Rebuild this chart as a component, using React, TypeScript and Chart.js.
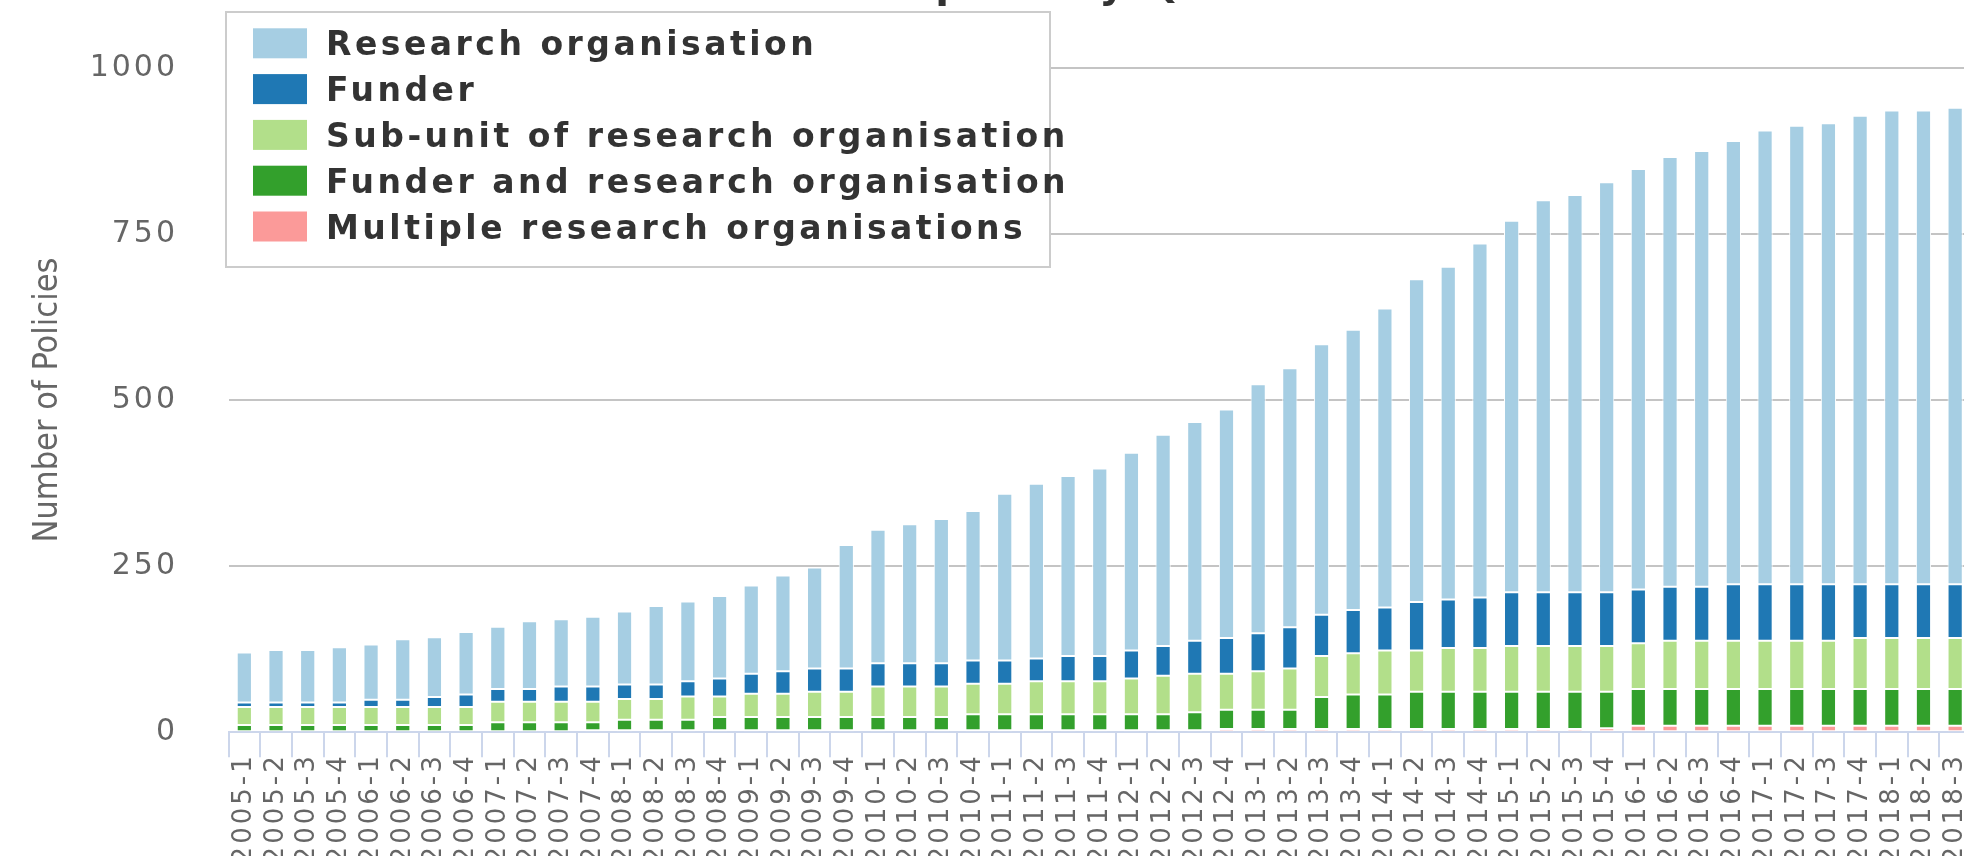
import React, { useEffect, useRef } from 'react';
import { Chart, registerables } from 'chart.js';

Chart.register(...registerables);

const quarters = [
  '2005-1', '2005-2', '2005-3', '2005-4', '2006-1', '2006-2', '2006-3', '2006-4',
  '2007-1', '2007-2', '2007-3', '2007-4', '2008-1', '2008-2', '2008-3', '2008-4',
  '2009-1', '2009-2', '2009-3', '2009-4', '2010-1', '2010-2', '2010-3', '2010-4',
  '2011-1', '2011-2', '2011-3', '2011-4', '2012-1', '2012-2', '2012-3', '2012-4',
  '2013-1', '2013-2', '2013-3', '2013-4', '2014-1', '2014-2', '2014-3', '2014-4',
  '2015-1', '2015-2', '2015-3', '2015-4', '2016-1', '2016-2', '2016-3', '2016-4',
  '2017-1', '2017-2', '2017-3', '2017-4', '2018-1', '2018-2', '2018-3',
];

const researchOrganisation = [
  75, 79, 79, 83, 83, 91, 90, 94, 94, 102, 101, 105, 110, 118, 120, 124,
  133, 144, 152, 186, 201, 209, 217, 225, 251, 263, 271, 282, 298, 318, 329, 344,
  375, 390, 407, 422, 450, 486, 501, 533, 559, 590, 598, 617, 633, 647, 656, 667,
  683, 690, 694, 705, 713, 713, 717,
];

const funder = [
  7, 7, 7, 7, 11, 11, 15, 19, 19, 19, 23, 23, 22, 22, 23, 27,
  30, 34, 35, 35, 35, 35, 35, 35, 35, 34, 38, 38, 42, 45, 50, 54,
  57, 62, 62, 65, 65, 73, 73, 76, 81, 81, 81, 81, 81, 81, 81, 85,
  85, 85, 85, 81, 81, 81, 81,
];

const subUnit = [
  27, 27, 27, 27, 27, 27, 27, 27, 31, 31, 31, 31, 31, 31, 35, 31,
  35, 35, 38, 38, 46, 46, 46, 46, 46, 50, 50, 50, 54, 58, 58, 54,
  58, 62, 62, 62, 66, 62, 66, 66, 69, 69, 69, 69, 69, 73, 73, 73,
  73, 73, 73, 77, 77, 77, 77,
];

const funderAndResearch = [
  11, 11, 11, 11, 11, 11, 11, 11, 15, 15, 15, 12, 16, 16, 16, 20,
  20, 20, 20, 20, 20, 20, 20, 24, 24, 24, 24, 24, 24, 24, 27, 29,
  29, 29, 48, 52, 52, 56, 56, 56, 56, 56, 56, 55, 55, 55, 55, 55,
  55, 55, 55, 55, 55, 55, 55,
];

const multipleResearch = [
  0, 0, 0, 0, 0, 0, 0, 0, 0, 0, 0, 3, 3, 3, 3, 3,
  3, 3, 3, 3, 3, 3, 3, 3, 3, 3, 3, 3, 3, 3, 3, 5,
  5, 5, 5, 5, 5, 5, 5, 5, 5, 5, 5, 6, 10, 10, 10, 10,
  10, 10, 10, 10, 10, 10, 10,
];

const yTicks = [0, 250, 500, 750, 1000];

const W = 1972;
const H = 930;
const TOP_SHIFT = 29; // canvas is placed 29px above the page top
const PLOT_LEFT = 228.5;
const PLOT_BOTTOM = 761.3;
const SPACING = '3px';

const spacingPlugin = {
  id: 'spacingPlugin',
  beforeUpdate(chart: any) {
    chart.ctx.letterSpacing = SPACING;
  },
  beforeDraw(chart: any) {
    chart.ctx.letterSpacing = SPACING;
  },
};

const overlayPlugin = {
  id: 'overlayPlugin',
  afterDraw(chart: any) {
    const ctx: CanvasRenderingContext2D = chart.ctx;
    ctx.save();
    (ctx as any).letterSpacing = '0px';

    // y-axis title
    ctx.save();
    ctx.translate(48, 400 + TOP_SHIFT);
    ctx.rotate(-Math.PI / 2);
    ctx.fillStyle = '#666666';
    ctx.font = "34px 'Liberation Sans Narrow', 'DejaVu Sans Condensed', sans-serif";
    ctx.textAlign = 'center';
    ctx.textBaseline = 'middle';
    ctx.fillText('Number of Policies', 0, 0);
    ctx.restore();

    // legend box
    const bx = 226, by = 12 + TOP_SHIFT, bw = 824, bh = 255;
    ctx.fillStyle = '#ffffff';
    ctx.fillRect(bx, by, bw, bh);
    ctx.strokeStyle = '#cccccc';
    ctx.lineWidth = 2;
    ctx.strokeRect(bx, by, bw, bh);

    const ds = chart.data.datasets.slice().reverse();
    ctx.font = "bold 33px 'DejaVu Sans', sans-serif";
    (ctx as any).letterSpacing = '3.5px';
    ctx.textAlign = 'left';
    ctx.textBaseline = 'alphabetic';
    ds.forEach((d: any, i: number) => {
      const y = 28.3 + 45.8 * i + TOP_SHIFT;
      ctx.fillStyle = d.backgroundColor;
      ctx.fillRect(253, y, 54, 30);
      ctx.fillStyle = '#333333';
      ctx.fillText(d.label, 326, y + 27);
    });
    ctx.restore();
  },
};

export default function App() {
  const ref = useRef<HTMLCanvasElement | null>(null);

  useEffect(() => {
    const canvas = ref.current;
    if (!canvas) return;
    const common = { borderColor: '#ffffff', borderWidth: 1, borderSkipped: false as const, barPercentage: 0.48, categoryPercentage: 1 };
    const chart = new Chart(canvas, {
      type: 'bar',
      data: {
        labels: quarters,
        datasets: [
          { label: 'Multiple research organisations', data: multipleResearch, backgroundColor: '#fb9a99', ...common },
          { label: 'Funder and research organisation', data: funderAndResearch, backgroundColor: '#33a02c', ...common },
          { label: 'Sub-unit of research organisation', data: subUnit, backgroundColor: '#b2df8a', ...common },
          { label: 'Funder', data: funder, backgroundColor: '#1f78b4', ...common },
          { label: 'Research organisation', data: researchOrganisation, backgroundColor: '#a6cee3', ...common },
        ],
      },
      options: {
        responsive: false,
        animation: false,
        devicePixelRatio: 1,
        layout: { padding: { left: 0, right: 1, top: 0, bottom: 0 } },
        plugins: {
          legend: { display: false },
          tooltip: { enabled: false },
          title: {
            display: true,
            text: 'Policies adopted by Quarter',
            color: '#333333',
            font: { family: "'DejaVu Sans', sans-serif", size: 40, weight: 'bold' },
            padding: { top: -8, bottom: 57 },
          },
        },
        scales: {
          x: {
            stacked: true,
            offset: true,
            grid: {
              display: true,
              drawOnChartArea: false,
              drawTicks: true,
              tickLength: 25,
              color: '#ccd6eb',
              lineWidth: 2,
              offset: true,
            },
            border: { display: true, color: '#ccd6eb', width: 2 },
            ticks: {
              autoSkip: false,
              minRotation: 90,
              maxRotation: 90,
              padding: -4,
              color: '#666666',
              font: { family: "'DejaVu Sans', sans-serif", size: 26 },
            },
            afterFit: (scale: any) => {
              scale.height = H - PLOT_BOTTOM;
              scale.paddingLeft = 0;
              scale.paddingRight = 0;
            },
          },
          y: {
            stacked: true,
            min: 0,
            max: 1000,
            afterBuildTicks: (scale: any) => {
              scale.ticks = yTicks.map((v) => ({ value: v }));
            },
            grid: { color: '#c4c4c4', lineWidth: 2, drawTicks: false },
            border: { display: false },
            ticks: {
              padding: 50.5,
              color: '#666666',
              font: { family: "'DejaVu Sans', sans-serif", size: 30 },
              callback: (v: any) => String(v),
            },
            afterFit: (scale: any) => {
              scale.width = PLOT_LEFT;
              scale.paddingTop = 0;
              scale.paddingBottom = 0;
            },
          },
        },
      },
      plugins: [spacingPlugin, overlayPlugin],
    });
    return () => chart.destroy();
  }, []);

  return (
    <div style={{ position: 'fixed', left: 0, top: 0, width: '100vw', height: '100vh', overflow: 'hidden', background: '#ffffff' }}>
      <canvas
        ref={ref}
        width={W}
        height={H}
        style={{ position: 'absolute', left: 0, top: -TOP_SHIFT, width: W + 'px', height: H + 'px' }}
      />
    </div>
  );
}
